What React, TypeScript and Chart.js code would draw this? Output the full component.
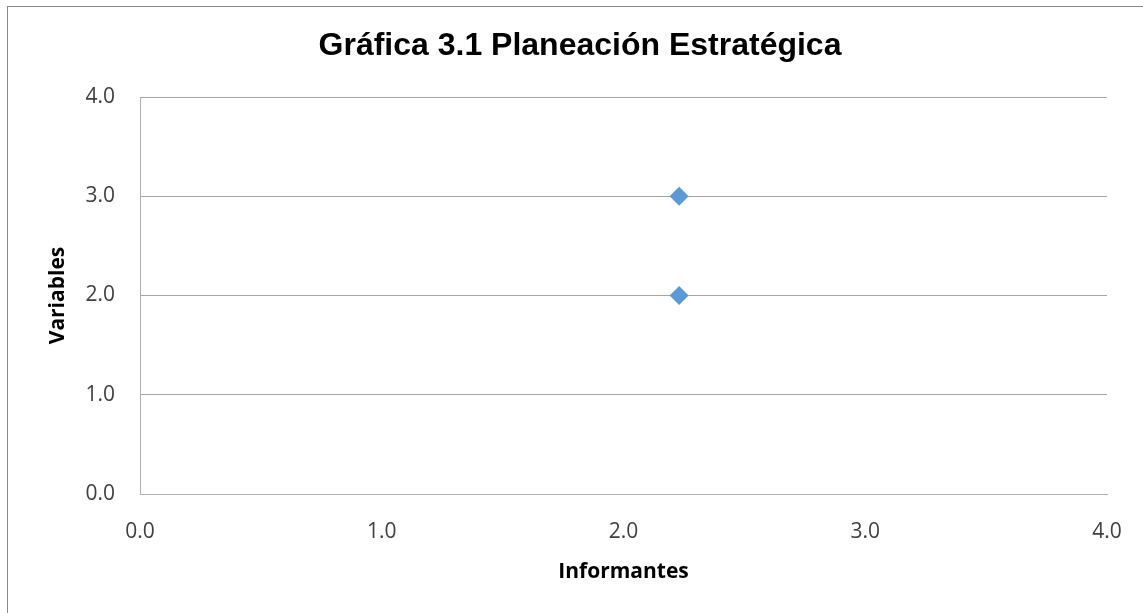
import React, { useEffect, useRef } from "react";
import { Chart, registerables } from "chart.js";

Chart.register(...registerables);

const chartTitle = "Gráfica 3.1 Planeación Estratégica";
const xAxisTitle = "Informantes";
const yAxisTitle = "Variables";
const xValues = [2.23, 2.23];
const yValues = [3, 2];
const axisMin = 0;
const axisMax = 4;
const axisStep = 1;

const framePlugin = {
  id: "frame",
  beforeDraw(chart: any) {
    const ctx = chart.ctx;
    ctx.save();
    ctx.strokeStyle = "#8a8a8a";
    ctx.lineWidth = 1;
    ctx.strokeRect(7.5, 6.5, 1140, 640);
    ctx.restore();
  },
};

export default function App() {
  const ref = useRef<HTMLCanvasElement | null>(null);
  useEffect(() => {
    if (!ref.current) return;
    const points = xValues.map((x, i) => ({ x, y: yValues[i] }));
    const tickFont = { family: "'Open Sans', sans-serif", size: 21 };
    const chart = new Chart(ref.current, {
      type: "scatter",
      data: {
        datasets: [
          {
            data: points,
            backgroundColor: "#5b9bd5",
            borderColor: "#5b9bd5",
            borderWidth: 0,
            pointStyle: "rectRot",
            pointRadius: 9.5,
            pointHoverRadius: 9.5,
          },
        ],
      },
      options: {
        animation: false,
        responsive: false,
        maintainAspectRatio: false,
        layout: { padding: { left: 17, right: 0, top: 0, bottom: 0 } },
        plugins: {
          legend: { display: false },
          tooltip: { enabled: false },
          title: {
            display: true,
            text: chartTitle,
            color: "#000000",
            font: { family: "'Liberation Sans', Arial, sans-serif", size: 32, weight: "bold" },
            padding: { top: 27, bottom: 31.6 },
          },
        },
        scales: {
          x: {
            type: "linear",
            min: axisMin,
            max: axisMax,
            ticks: {
              stepSize: axisStep,
              padding: 25,
              color: "#404040",
              font: tickFont,
              callback: (v: any) => Number(v).toFixed(1),
            },
            grid: { display: true, color: "rgba(0,0,0,0)", drawTicks: false },
            border: { display: true, color: "#b0b0b0", width: 1 },
            title: {
              display: true,
              text: xAxisTitle,
              color: "#000000",
              font: { family: "'Open Sans', sans-serif", size: 21, weight: "bold" },
              padding: { top: 0, bottom: 28.4 },
            },
            afterFit: (scale: any) => {
              scale.height = 119;
              scale.paddingRight = 36;
            },
          },
          y: {
            type: "linear",
            min: axisMin,
            max: axisMax,
            ticks: {
              stepSize: axisStep,
              padding: 25,
              color: "#404040",
              font: tickFont,
              callback: (v: any) => Number(v).toFixed(1),
            },
            grid: { display: true, color: "#a6a6a6", drawTicks: false },
            border: { display: true, color: "#b0b0b0", width: 1 },
            title: {
              display: true,
              text: yAxisTitle,
              color: "#000000",
              font: { family: "'Open Sans', sans-serif", size: 21, weight: "bold" },
              padding: { top: 28, bottom: 0 },
            },
            afterFit: (scale: any) => {
              scale.width = 123;
            },
          },
        },
      },
      plugins: [framePlugin],
    });
    return () => chart.destroy();
  }, []);
  return (
    <div style={{ position: "absolute", left: 0, top: 0, width: 1143, height: 613, background: "#ffffff" }}>
      <canvas ref={ref} width={1143} height={613} style={{ display: "block", width: 1143, height: 613 }} />
    </div>
  );
}
